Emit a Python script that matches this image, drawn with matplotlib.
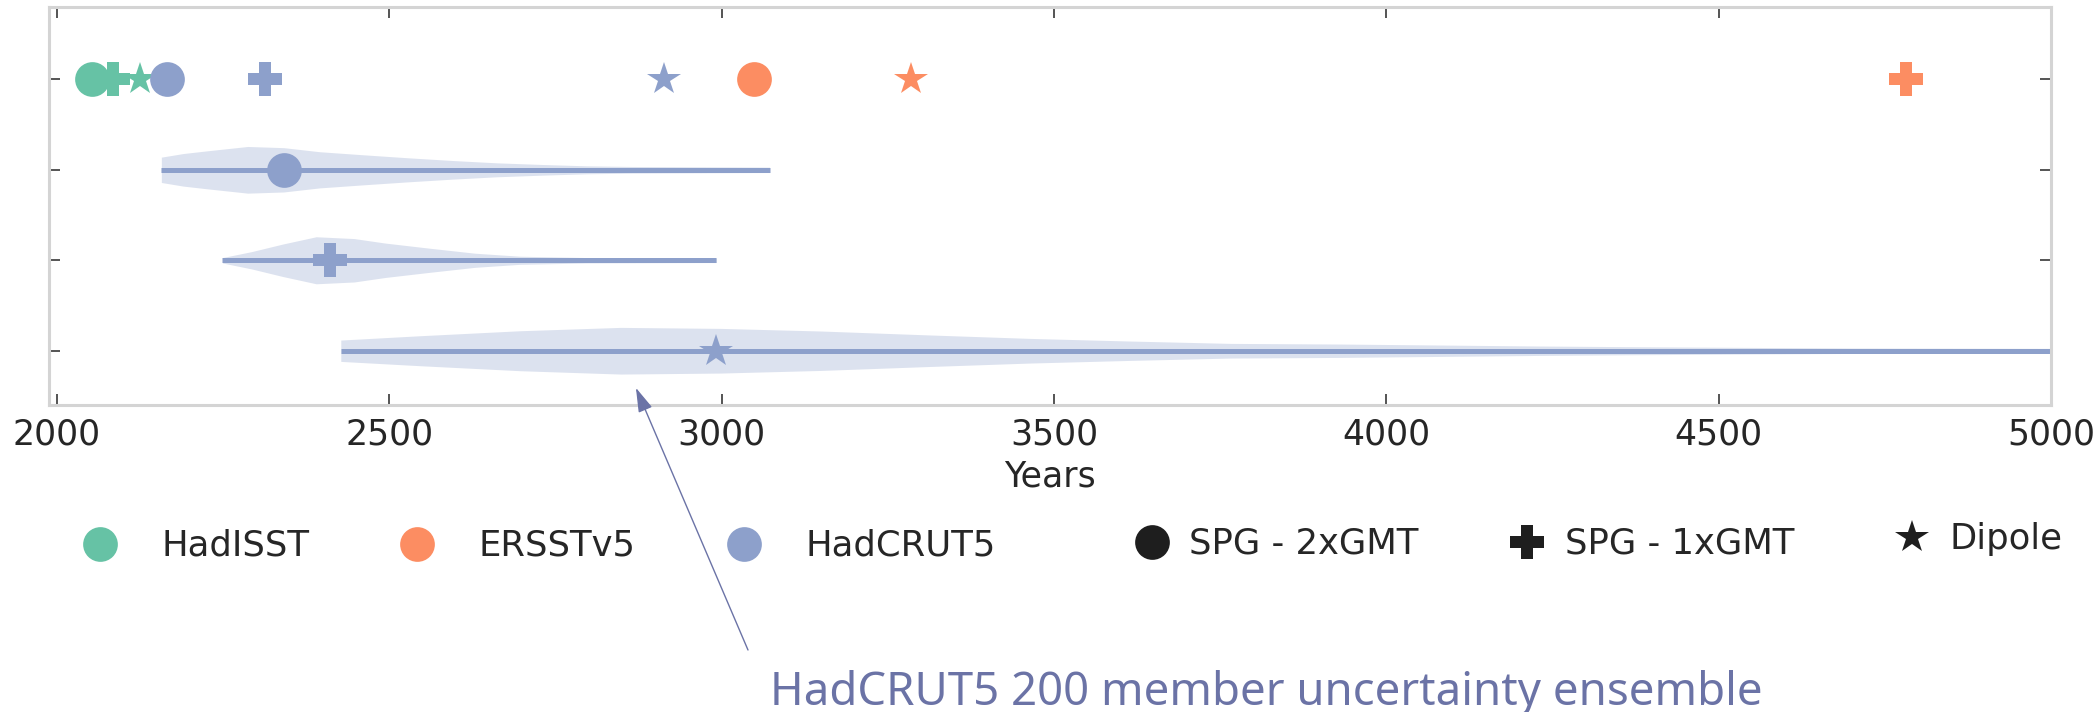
import numpy as np
import matplotlib
matplotlib.use("Agg")
import matplotlib.pyplot as plt
from matplotlib.lines import Line2D

plt.rcParams["font.family"] = ["DejaVu Sans"]

# ---------------- data ----------------
datasets = ["HadISST", "ERSSTv5", "HadCRUT5"]
colors = ["#66c2a5", "#fc8d62", "#8da0cb"]
indices = ["SPG - 2xGMT", "SPG - 1xGMT", "Dipole"]
markers = ["o", "P", "*"]

# emergence year per dataset for (SPG-2xGMT, SPG-1xGMT, Dipole)
hadisst_years = [2053, 2084, 2125]
ersst_years = [3049, 4782, 3285]
hadcrut_years = [2166, 2313, 2913]

# HadCRUT5 200-member ensemble (rows 1..3): range, median and violin profile
ens_min = [2157, 2249, 2427]
ens_max = [3072, 2992, 5100]
ens_median = [2341, 2411, 2992]

prof1_x = [2157, 2190, 2226, 2287, 2341, 2395, 2461, 2528, 2595, 2662, 2730, 2797, 2864, 3072]
prof1_w = [0.14, 0.18, 0.21, 0.258, 0.245, 0.20, 0.166, 0.133, 0.103, 0.077, 0.059, 0.044, 0.037, 0.03]
prof2_x = [2249, 2293, 2340, 2390, 2447, 2494, 2561, 2629, 2696, 2797, 2992]
prof2_w = [0.03, 0.096, 0.18, 0.26, 0.24, 0.19, 0.133, 0.078, 0.045, 0.03, 0.025]
prof3_x = [2427, 2547, 2697, 2848, 2998, 3149, 3314, 3465, 3615, 3766, 3931, 4081, 4232, 4382, 4533, 4700, 5100]
prof3_w = [0.118, 0.166, 0.221, 0.258, 0.247, 0.218, 0.174, 0.136, 0.107, 0.081, 0.074, 0.063, 0.052, 0.044, 0.037, 0.030, 0.025]

x_ticks = [2000, 2500, 3000, 3500, 4000, 4500, 5000]
annotation_text = "HadCRUT5 200 member uncertainty ensemble"

# ---------------- figure ----------------
W, H = 2098, 712
fig = plt.figure(figsize=(W / 100, H / 100), dpi=100)
ax = fig.add_axes([49 / W, 1 - 405 / H, (2051 - 49) / W, (405 - 7) / H])

text_col = "#262626"
ann_col = "#6b73a6"
blue = colors[2]
MS = 25

# top row: single estimates
all_years = [hadisst_years, ersst_years, hadcrut_years]
for col, yrs in zip(colors, all_years):
    for m, yv in zip(markers, yrs):
        ax.plot([yv], [0], marker=m, ms=MS, color=col, mew=0, ls="none", zorder=3)

# ensemble violins
profiles = [(prof1_x, prof1_w), (prof2_x, prof2_w), (prof3_x, prof3_w)]
for i, (px, pw) in enumerate(profiles):
    yrow = i + 1
    px = np.asarray(px, float)
    pw = np.asarray(pw, float)
    ax.fill_between(px, yrow - pw, yrow + pw, color=blue, alpha=0.3, lw=0, zorder=1)
    ax.plot([ens_min[i], ens_max[i]], [yrow, yrow], color=blue, lw=3.6,
            solid_capstyle="butt", zorder=2)
    ax.plot([ens_median[i]], [yrow], marker=markers[i], ms=MS, color=blue,
            mew=0, ls="none", zorder=3)

ax.set_xlim(1988, 5000)
ax.set_ylim(3.6, -0.8)
ax.set_xticks(x_ticks)
ax.set_xticklabels([str(t) for t in x_ticks])
ax.set_yticks([0, 1, 2, 3])
ax.tick_params(axis="both", direction="in", length=8, width=1.1, color=text_col,
               top=True, right=True, labelleft=False, labelsize=25,
               labelcolor=text_col, pad=9)
for sp in ax.spines.values():
    sp.set_color("#d4d4d4")
    sp.set_linewidth(2.2)
ax.set_xlabel("Years", fontsize=25, color=text_col, labelpad=6)

# ---------------- legends ----------------
LFS = 25.5
hA = [Line2D([], [], marker="o", ms=MS, color=c, mew=0, ls="none") for c in colors]
hB = [Line2D([], [], marker=m, ms=MS, color="#1e1e1e", mew=0, ls="none") for m in markers]

legA = fig.legend(hA, datasets, loc="center left", bbox_to_anchor=(82 / W, 1 - 546 / H),
                  ncol=3, frameon=False, borderpad=0, borderaxespad=0, handlelength=1.0,
                  handletextpad=1.24, columnspacing=2.55, fontsize=LFS,
                  labelcolor=text_col)
legB = fig.legend(hB[:2], indices[:2], loc="center left", bbox_to_anchor=(1134 / W, 1 - 544 / H),
                  ncol=2, frameon=False, borderpad=0, borderaxespad=0, handlelength=1.0,
                  handletextpad=0.55, columnspacing=2.58, fontsize=LFS,
                  labelcolor=text_col)
legC = fig.legend(hB[2:], indices[2:], loc="center left", bbox_to_anchor=(1894 / W, 1 - 539 / H),
                  ncol=1, frameon=False, borderpad=0, borderaxespad=0, handlelength=1.0,
                  handletextpad=0.57, fontsize=LFS, labelcolor=text_col)

# ---------------- annotation ----------------
ax.annotate("", xy=(2871, 3.41), xycoords="data",
            xytext=(748 / W, 1 - 650 / H), textcoords="figure fraction",
            arrowprops=dict(arrowstyle="-|>,head_length=1.5,head_width=0.45",
                            color=ann_col, lw=1.0, shrinkA=0, shrinkB=0),
            annotation_clip=False)
t = fig.text(770 / W, 1 - 705 / H, annotation_text, fontsize=34,
             family=["Noto Sans", "DejaVu Sans"], color=ann_col, ha="left", va="baseline")
fig.canvas.draw()
bb = t.get_window_extent()
t.set_fontsize(34 * 992 / bb.width)

fig.savefig("out.png", dpi=100)
